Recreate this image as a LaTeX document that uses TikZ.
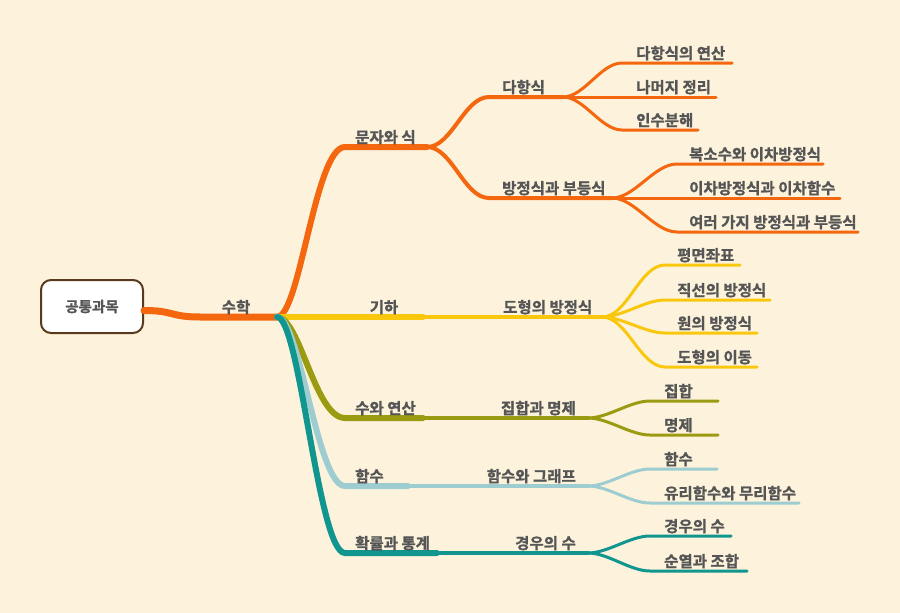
\documentclass[tikz,border=0pt]{standalone}
\usepackage{fontspec}
\setmainfont{Noto Sans CJK KR}[BoldFont={Noto Sans CJK KR Bold}, BoldFeatures={FakeBold=1.2}]
\usepackage{tikz}

\definecolor{bgcream}{HTML}{FDF3DC}
\definecolor{txtgray}{HTML}{555555}
\definecolor{rootbrown}{HTML}{5A3A1C}
\definecolor{cOrange}{HTML}{F4670F}
\definecolor{cYellow}{HTML}{F9C80E}
\definecolor{cOlive}{HTML}{9B9B12}
\definecolor{cBlue}{HTML}{9DCDD0}
\definecolor{cTeal}{HTML}{10958F}

\begin{document}
\begin{tikzpicture}[x=1pt, y=-1pt]
    % Styles
    \tikzstyle{root} = [rectangle, rounded corners=10pt, draw=rootbrown, line width=2pt, fill=white, minimum width=102pt, minimum height=53pt, text=txtgray, font=\fontsize{14.5}{16}\selectfont\bfseries]
    \tikzstyle{topic} = [anchor=base west, inner sep=0pt, text=txtgray, font=\fontsize{15.5}{18}\selectfont\bfseries]
    \tikzstyle{trunk} = [line width=7pt, line cap=round]
    \tikzstyle{lvlone} = [line width=6pt, line cap=round]
    \tikzstyle{lvltwo} = [line width=4pt, line cap=round]
    \tikzstyle{lvlthree} = [line width=3pt, line cap=round]
    \tikzstyle{fork} = [out=0, in=180, looseness=0.8]

    % Background
    \fill[bgcream] (0,0) rectangle (900,613);
    \useasboundingbox (0,0) rectangle (900,613);

    % Root
    \node[root] (root) at (92,306.5) {공통과목};
    \coordinate (trunkmid) at (200,317);
    \coordinate (hub) at (277,317);
    \draw[trunk, cOrange] ([yshift=-4pt]root.east) .. controls +(30,0) and +(-30,0) .. (trunkmid) -- (hub);
    \node[topic, anchor=base] (math) at (236,313) {수학};

    % Branch points
    \coordinate (mj) at (345,147);   \coordinate (mj-e) at (427,147);
    \coordinate (poly) at (489,97);  \coordinate (poly-s) at (563,97);
    \coordinate (eqn) at (489,198);  \coordinate (eqn-s) at (612,198);
    \coordinate (gh-e) at (423,317); \coordinate (gh-s) at (602,317);
    \coordinate (sy) at (345,418);   \coordinate (sy-e) at (423,418); \coordinate (sy-s) at (588,418);
    \coordinate (fn) at (345,486);   \coordinate (fn-e) at (408,486); \coordinate (fn-s) at (588,486);
    \coordinate (pr) at (345,553);   \coordinate (pr-e) at (437,553); \coordinate (pr-s) at (588,553);

    % Leaf line ends
    \coordinate (a1) at (622,63);  \coordinate (a1-e) at (732,63);
    \coordinate (a2-e) at (716,97);
    \coordinate (a3) at (622,130); \coordinate (a3-e) at (698,130);
    \coordinate (b1) at (677,164); \coordinate (b1-e) at (823,164);
    \coordinate (b2-e) at (840,198);
    \coordinate (b3) at (677,232); \coordinate (b3-e) at (858,232);
    \coordinate (c1) at (665,265); \coordinate (c1-e) at (740,265);
    \coordinate (c2) at (665,300); \coordinate (c2-e) at (770,300);
    \coordinate (c3) at (665,333); \coordinate (c3-e) at (757,333);
    \coordinate (c4) at (665,367); \coordinate (c4-e) at (757,367);
    \coordinate (d1) at (650,401); \coordinate (d1-e) at (718,401);
    \coordinate (d2) at (650,435); \coordinate (d2-e) at (718,435);
    \coordinate (e1) at (650,469); \coordinate (e1-e) at (717,469);
    \coordinate (e2) at (650,503); \coordinate (e2-e) at (799,503);
    \coordinate (f1) at (650,536); \coordinate (f1-e) at (731,536);
    \coordinate (f2) at (650,571); \coordinate (f2-e) at (747,571);

    % Orange: 문자와 식
    \draw[lvlone, cOrange] (hub) .. controls (300,317) and (315,147) .. (mj) -- (mj-e);
    \draw[lvltwo, cOrange] (mj-e) to[fork] (poly) -- (poly-s);
    \draw[lvltwo, cOrange] (mj-e) to[fork] (eqn) -- (eqn-s);
    \draw[lvlthree, cOrange] (poly-s) to[fork] (a1) -- (a1-e);
    \draw[lvlthree, cOrange] (poly-s) -- (a2-e);
    \draw[lvlthree, cOrange] (poly-s) to[fork] (a3) -- (a3-e);
    \draw[lvlthree, cOrange] (eqn-s) to[fork] (b1) -- (b1-e);
    \draw[lvlthree, cOrange] (eqn-s) -- (b2-e);
    \draw[lvlthree, cOrange] (eqn-s) to[fork] (b3) -- (b3-e);

    % Yellow: 기하
    \draw[lvltwo, cYellow] (gh-e) -- (gh-s);
    \draw[lvlone, cYellow] (hub) -- (gh-e);
    \draw[lvlthree, cYellow] (gh-s) to[fork] (c1) -- (c1-e);
    \draw[lvlthree, cYellow] (gh-s) to[fork] (c2) -- (c2-e);
    \draw[lvlthree, cYellow] (gh-s) to[fork] (c3) -- (c3-e);
    \draw[lvlthree, cYellow] (gh-s) to[fork] (c4) -- (c4-e);

    % Olive: 수와 연산
    \draw[lvltwo, cOlive] (sy-e) -- (sy-s);
    \draw[lvlone, cOlive] (hub) .. controls (300,317) and (315,418) .. (sy) -- (sy-e);
    \draw[lvlthree, cOlive] (sy-s) to[fork] (d1) -- (d1-e);
    \draw[lvlthree, cOlive] (sy-s) to[fork] (d2) -- (d2-e);

    % Light blue: 함수
    \draw[lvltwo, cBlue] (fn-e) -- (fn-s);
    \draw[lvlone, cBlue] (hub) .. controls (300,317) and (317,486) .. (fn) -- (fn-e);
    \draw[lvlthree, cBlue] (fn-s) to[fork] (e1) -- (e1-e);
    \draw[lvlthree, cBlue] (fn-s) to[fork] (e2) -- (e2-e);

    % Teal: 확률과 통계
    \draw[lvltwo, cTeal] (pr-e) -- (pr-s);
    \draw[lvlone, cTeal] (hub) .. controls (300,317) and (318,553) .. (pr) -- (pr-e);
    \draw[lvlthree, cTeal] (pr-s) to[fork] (f1) -- (f1-e);
    \draw[lvlthree, cTeal] (pr-s) to[fork] (f2) -- (f2-e);

    % Labels
    \node[topic] (t-mj) at (355,143) {문자와 식};
    \node[topic, anchor=base] (t-gh) at (384,313) {기하};
    \node[topic] (t-sy) at (355,414) {수와 연산};
    \node[topic] (t-fn) at (355,482) {함수};
    \node[topic] (t-pr) at (355,549) {확률과 통계};

    \node[topic] (t-poly) at (502,93) {다항식};
    \node[topic] (t-eqn) at (502,194) {방정식과 부등식};
    \node[topic] (t-fig) at (503,313) {도형의 방정식};
    \node[topic, anchor=base east] (t-set) at (576,414) {집합과 명제};
    \node[topic, anchor=base east] (t-gr) at (576,482) {함수와 그래프};
    \node[topic, anchor=base east] (t-cnt) at (576,549) {경우의 수};

    \node[topic] (l-a1) at (636,59) {다항식의 연산};
    \node[topic] (l-a2) at (636,93) {나머지 정리};
    \node[topic] (l-a3) at (636,126) {인수분해};
    \node[topic] (l-b1) at (689,160) {복소수와 이차방정식};
    \node[topic] (l-b2) at (689,194) {이차방정식과 이차함수};
    \node[topic] (l-b3) at (689,228) {여러 가지 방정식과 부등식};
    \node[topic] (l-c1) at (677,261) {평면좌표};
    \node[topic] (l-c2) at (677,296) {직선의 방정식};
    \node[topic] (l-c3) at (677,329) {원의 방정식};
    \node[topic] (l-c4) at (677,363) {도형의 이동};
    \node[topic] (l-d1) at (664,397) {집합};
    \node[topic] (l-d2) at (664,431) {명제};
    \node[topic] (l-e1) at (664,465) {함수};
    \node[topic] (l-e2) at (664,499) {유리함수와 무리함수};
    \node[topic] (l-f1) at (664,532) {경우의 수};
    \node[topic] (l-f2) at (664,567) {순열과 조합};
\end{tikzpicture}
\end{document}
